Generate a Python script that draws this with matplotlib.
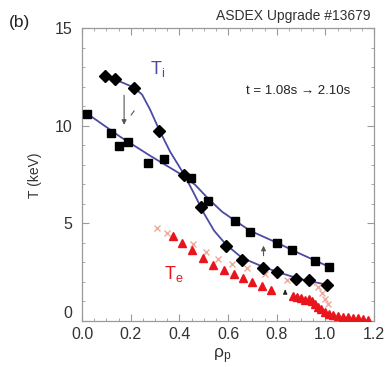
import matplotlib
matplotlib.use("Agg")
import matplotlib.pyplot as plt
from matplotlib.ticker import MultipleLocator

plt.rcParams['font.family'] = ['Liberation Sans', 'DejaVu Sans']

# Ion temperature, square symbols
rho_sq = [0.021, 0.119, 0.152, 0.189, 0.272, 0.337, 0.449, 0.519, 0.630, 0.691,
          0.802, 0.864, 0.959, 1.016]
ti_sq = [10.6, 9.6, 8.97, 9.18, 8.10, 8.31, 7.33, 6.15, 5.13, 4.56,
         4.0, 3.64, 3.08, 2.77]

# Ion temperature, diamond symbols
rho_dm = [0.095, 0.136, 0.214, 0.317, 0.420, 0.490, 0.593, 0.658, 0.745, 0.802,
          0.881, 0.934, 1.008]
ti_dm = [12.56, 12.41, 11.95, 9.74, 7.49, 5.85, 3.85, 3.13, 2.72, 2.51,
         2.15, 2.10, 1.85]

# Fitted ion profiles
rho_fit_dm = [0.095, 0.136, 0.177, 0.214, 0.247, 0.280, 0.317, 0.362, 0.420, 0.461,
              0.502, 0.543, 0.593, 0.658, 0.745, 0.815, 0.897, 1.008]
ti_fit_dm = [12.56, 12.36, 12.15, 11.95, 11.59, 10.82, 9.79, 8.67, 7.49, 6.51,
             5.49, 4.62, 3.90, 3.23, 2.77, 2.46, 2.15, 1.85]
rho_fit_sq = [0.021, 0.156, 0.280, 0.403, 0.465, 0.519, 0.576, 0.630, 0.691, 0.802,
              0.897, 1.016]
ti_fit_sq = [10.62, 9.44, 8.46, 7.54, 6.97, 6.26, 5.59, 5.13, 4.62, 4.0,
             3.44, 2.77]

# Electron temperature, triangles
rho_te = [0.374, 0.412, 0.453, 0.498, 0.539, 0.584, 0.626, 0.663, 0.700, 0.741,
          0.778, 0.868, 0.885, 0.901, 0.918, 0.934, 0.947, 0.959, 0.971, 0.984,
          1.0, 1.016, 1.033, 1.053, 1.074, 1.095, 1.115, 1.136, 1.156, 1.177]
te_tri = [4.36, 4.0, 3.64, 3.23, 2.87, 2.62, 2.41, 2.21, 2.0, 1.79,
          1.59, 1.28, 1.23, 1.18, 1.08, 1.13, 1.03, 0.87, 0.72, 0.62,
          0.46, 0.36, 0.31, 0.26, 0.21, 0.21, 0.15, 0.15, 0.10, 0.05]

# Electron temperature, crosses
rho_tx = [0.309, 0.350, 0.457, 0.510, 0.560, 0.617, 0.679, 0.753, 0.844,
          0.947, 0.971, 0.988, 1.0, 1.012]
te_x = [4.77, 4.51, 3.95, 3.54, 3.18, 2.92, 2.72, 2.41, 2.10,
        2.0, 1.74, 1.44, 1.13, 0.87]

xticks = [0.0, 0.2, 0.4, 0.6, 0.8, 1.0, 1.2]
yticks = [0, 5, 10, 15]

blue = '#4b4ba6'
red = '#e8161c'
pink = '#f2a898'
grey = '#9a9a9a'

fig = plt.figure(figsize=(3.86, 3.67), dpi=100)
ax = fig.add_axes([82/386, 1-321/367, (374-82)/386, (321-28)/367])

ax.plot(rho_fit_sq, ti_fit_sq, color=blue, lw=1.3, zorder=2)
ax.plot(rho_fit_dm, ti_fit_dm, color=blue, lw=1.3, zorder=2)
ax.plot(rho_tx, te_x, ls='none', marker='x', ms=5, mew=1.0, color=pink, zorder=2)
ax.plot(rho_te, te_tri, ls='none', marker='^', ms=5.2, color=red, mec=red, zorder=3)
ax.plot(rho_sq, ti_sq, ls='none', marker='s', ms=5.8, color='black', zorder=4)
ax.plot(rho_dm, ti_dm, ls='none', marker='D', ms=6, color='black', zorder=4)

# Arrows showing the evolution
arr = dict(arrowstyle='-|>', color='#555555', lw=0.8, mutation_scale=7)
ax.annotate('', xy=(0.173, 9.9), xytext=(0.173, 11.7), arrowprops=arr)
ax.annotate('', xy=(0.746, 4.0), xytext=(0.746, 3.2), arrowprops=arr)
ax.annotate('', xy=(0.835, 1.75), xytext=(0.835, 1.35),
            arrowprops=dict(arrowstyle='-|>', color='#222222', lw=0.8, mutation_scale=6))
ax.plot([0.202, 0.214], [10.55, 10.75], color='#555555', lw=0.8)

ax.set_xlim(0, 1.2)
ax.set_ylim(0, 15)
ax.set_xticks(xticks)
ax.set_xticklabels([f'{v:.1f}' for v in xticks])
ax.set_yticks(yticks)
ax.xaxis.set_minor_locator(MultipleLocator(0.05))
ax.yaxis.set_minor_locator(MultipleLocator(1))
ax.tick_params(which='both', direction='in', top=True, right=True, color=grey,
               labelcolor='#333333', labelsize=11.5)
ax.tick_params(which='major', length=5, width=0.8)
ax.tick_params(which='minor', length=2.5, width=0.6)
ax.tick_params(axis='x', pad=4)
ax.tick_params(axis='y', pad=7)
# lift the zero label so it clears the x tick labels
ax.get_yticklabels()[0].set_verticalalignment('bottom')
for s in ax.spines.values():
    s.set_color(grey)
    s.set_linewidth(0.9)

ax.text(0.28, 12.9, r'T$_\mathregular{i}$', color=blue, fontsize=13, ha='left', va='center')
ax.text(0.335, 2.4, r'T$_\mathregular{e}$', color=red, fontsize=13, ha='left', va='center')
ax.text(0.889, 11.8, 't = 1.08s \u2192 2.10s', color='#222222', fontsize=9.5,
        ha='center', va='center', family=['Liberation Sans', 'DejaVu Sans'])

fig.text(19/386, 1-22/367, '(b)', fontsize=12.5, ha='center', va='center', color='#222222')
fig.text(371/386, 1-16/367, 'ASDEX Upgrade #13679', fontsize=10, ha='right',
         va='center', color='#333333')
fig.text(35/386, 1-175/367, 'T (keV)', fontsize=10, rotation=90, ha='center',
         va='center', color='#333333')
fig.text(222/386, 1-356/367, r'$\mathregular{\rho_p}$', fontsize=12.5, ha='center',
         va='center', color='#333333')

fig.savefig('out.png', dpi=100)
